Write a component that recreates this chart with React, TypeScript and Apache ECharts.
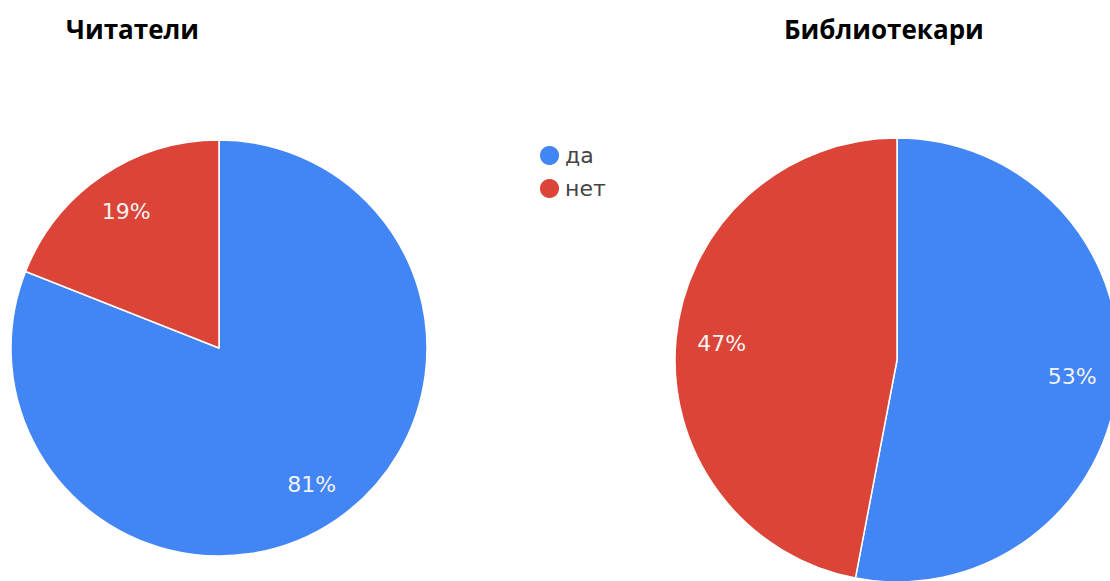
import React, { useEffect, useRef } from "react";
import * as echarts from "echarts";

const categories = ["да", "нет"];
const readersValues = [81, 19];
const librariansValues = [53, 47];
const titles = ["Читатели", "Библиотекари"];
const colors = ["#4285F4", "#DB4437"];

function pieSeries(values: number[], center: number[], r: number) {
  const data = categories.map((name, i) => ({ name, value: values[i] }));
  return [
    {
      type: "pie",
      center,
      radius: [0, r],
      startAngle: 90,
      clockwise: true,
      silent: true,
      data,
      label: { show: false },
      labelLine: { show: false },
      itemStyle: { borderColor: "#ffffff", borderWidth: 1.5 },
    },
    {
      type: "pie",
      center,
      radius: [Math.round(r * 0.56), r],
      startAngle: 90,
      clockwise: true,
      silent: true,
      data,
      itemStyle: { color: "transparent", borderWidth: 0 },
      label: {
        show: true,
        position: "inside",
        formatter: (p: any) => p.value + "%",
        color: "#f2f2f2",
        fontFamily: "DejaVu Sans",
        fontSize: 22,
      },
      labelLine: { show: false },
    },
  ];
}

export default function App() {
  const ref = useRef<HTMLDivElement>(null);
  useEffect(() => {
    if (!ref.current) return;
    const chart = echarts.init(ref.current, null, { renderer: "svg" });
    chart.setOption({
      animation: false,
      color: colors,
      backgroundColor: "#ffffff",
      title: [
        {
          text: titles[0],
          left: 61,
          top: 11,
          textStyle: { fontFamily: "Open Sans", fontWeight: "bold", fontSize: 26, color: "#000" },
        },
        {
          text: titles[1],
          left: 779,
          top: 11,
          textStyle: { fontFamily: "Open Sans", fontWeight: "bold", fontSize: 26, color: "#000" },
        },
      ],
      legend: {
        orient: "vertical",
        left: 533,
        top: 139,
        icon: "circle",
        itemWidth: 21,
        itemHeight: 21,
        itemGap: 10,
        data: categories,
        textStyle: { fontFamily: "DejaVu Sans", fontSize: 22, color: "#444" },
      },
      series: [
        ...pieSeries(readersValues, [219, 348], 208),
        ...pieSeries(librariansValues, [897, 360], 222),
      ],
    });
    return () => chart.dispose();
  }, []);
  return (
    <div
      ref={ref}
      style={{ position: "fixed", left: 0, top: 0, width: 1110, height: 581 }}
    />
  );
}
